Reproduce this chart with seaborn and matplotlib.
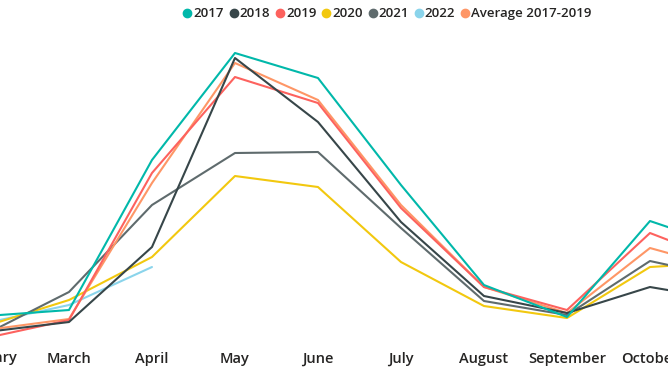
import matplotlib
matplotlib.use("Agg")
from matplotlib import pyplot as plt
from matplotlib.lines import Line2D
import seaborn as sns
import pandas as pd

months = ["February", "March", "April", "May", "June", "July",
          "August", "September", "October", "November"]

# values (arbitrary units, no y axis shown)
y2017 = [60, 66, 216, 323, 298, 191, 91, 59, 155, 127]
y2018 = [44, 54, 129, 318, 254, 154, 80, 63, 89, 75]
y2019 = [38, 56, 203, 299, 273, 168, 89, 66, 143, 111]
y2020 = [50, 76, 119, 200, 189, 114, 70, 58, 109, 114]
y2021 = [42, 84, 171, 223, 224, 148, 75, 61, 115, 97]
y2022 = [53, 71, 109]
yavg = [46, 57, 193, 313, 276, 171, 89, 63, 128, 105]

series = {
    "2017": y2017,
    "2018": y2018,
    "2019": y2019,
    "2020": y2020,
    "2021": y2021,
    "2022": y2022,
    "Average 2017-2019": yavg,
}
colors = {
    "2017": "#01B8AA",
    "2018": "#374649",
    "2019": "#FD625E",
    "2020": "#F2C80F",
    "2021": "#5F6B6D",
    "2022": "#8AD4EB",
    "Average 2017-2019": "#FE9666",
}

rows = []
for name, vals in series.items():
    for m, v in zip(months, vals):
        rows.append({"month": m, "idx": months.index(m), "value": v, "series": name})
df = pd.DataFrame(rows)

sns.set_style("white")
plt.rcParams["font.family"] = ["Open Sans", "DejaVu Sans"]

fig = plt.figure(figsize=(6.68, 3.76), dpi=100)
ax = fig.add_axes([0, 0.0824, 1, 0.8378])

draw_order = ["2022", "2020", "2021", "Average 2017-2019", "2019", "2018", "2017"]
for name in draw_order:
    sub = df[df["series"] == name]
    sns.lineplot(data=sub, x="idx", y="value", color=colors[name],
                 linewidth=1.5, ax=ax, legend=False, sort=False)

label_style = dict(fontsize=10.5, fontweight="semibold", color="#252423")
ax.set_xticks(range(len(months)))
ax.set_xticklabels(months, **label_style)
# the reference is a crop: February and November sit just past the edges
ax.set_xlim(0.169, 8.217)
ax.set_ylim(31, 346)
ax.tick_params(axis="x", length=0, pad=5)
ax.set_yticks([])
ax.set_xlabel("")
ax.set_ylabel("")
for s in ax.spines.values():
    s.set_visible(False)

# February's tick falls outside the view, so its (cut) label is drawn by hand
ax.text(months.index("February"), -0.02, months[0], transform=ax.get_xaxis_transform(),
        ha="center", va="top", clip_on=False, **label_style)

handles = [Line2D([], [], marker="o", linestyle="", markersize=6,
                  markerfacecolor=colors[n], markeredgecolor=colors[n])
           for n in series]
fig.legend(handles, list(series.keys()), loc="center", bbox_to_anchor=(0.58, 0.963),
           ncol=7, frameon=False, handletextpad=0.15, columnspacing=0.45,
           handlelength=0.6, prop={"size": 9.5, "weight": "semibold"},
           labelcolor="#252423")

fig.savefig("out.png", dpi=100)
